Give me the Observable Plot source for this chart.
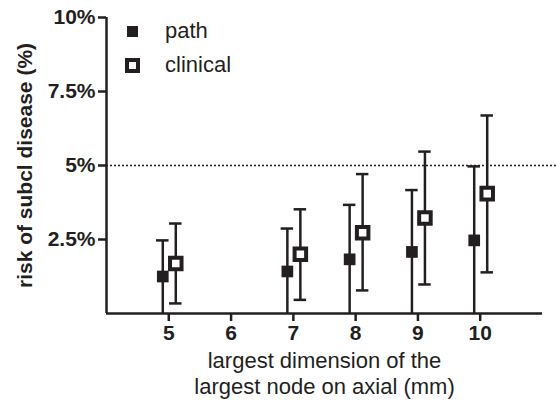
<!DOCTYPE html>
<html>
<head>
<meta charset="utf-8">
<script src="https://cdn.jsdelivr.net/npm/d3@7"></script>
<script src="https://cdn.jsdelivr.net/npm/@observablehq/plot@0.6"></script>
<style>
  html, body { margin: 0; padding: 0; background: #fff; }
  #wrap { position: relative; width: 556px; height: 405px; font-family: "Liberation Sans", Arial, sans-serif; color: #231f20; }
  #legend { position: absolute; left: 124px; top: 14px; font-size: 22px; }
  .item { display: flex; align-items: center; height: 34px; }
  .sw { width: 17px; height: 17px; display: flex; align-items: center; justify-content: center; margin-right: 24px; }
  .filled { width: 11px; height: 11px; background: #231f20; }
  .hollow { width: 7px; height: 7px; background: #fff; border: 4px solid #231f20; }
</style>
</head>
<body>
<div id="wrap">
  <div id="chart"></div>
  <div id="legend"></div>
</div>
<script>
// Data (risk in %)
const nodeSize   = [5, 7, 8, 9, 10];
const pathMean   = [1.25, 1.42, 1.83, 2.08, 2.47];
const pathLow    = [0, 0, 0, 0, 0];
const pathHigh   = [2.47, 2.87, 3.67, 4.17, 4.97];
const clinMean   = [1.69, 2.00, 2.73, 3.23, 4.05];
const clinLow    = [0.34, 0.46, 0.78, 0.98, 1.39];
const clinHigh   = [3.04, 3.52, 4.71, 5.47, 6.69];
const seriesNames = ["path", "clinical"];
const xTicks = [5, 6, 7, 8, 9, 10];
const yTicks = [2.5, 5, 7.5, 10];
const threshold = 5;
const xTitle = "largest dimension of the\nlargest node on axial (mm)";
const yTitle = "risk of subcl disease (%)";

const pathData = nodeSize.map((x, i) => ({x, mean: pathMean[i], lo: pathLow[i], hi: pathHigh[i]}));
const clinData = nodeSize.map((x, i) => ({x, mean: clinMean[i], lo: clinLow[i], hi: clinHigh[i]}));

const ink = "#231f20";
const capHalf = 0.1;
const pdx = -6, cdx = 7;

const chart = Plot.plot({
  width: 556,
  height: 405,
  marginLeft: 106,
  marginRight: 14,
  marginTop: 17,
  marginBottom: 92,
  style: {fontFamily: "'Liberation Sans', Arial, sans-serif", color: ink, background: "#fff"},
  x: {domain: [4, 11]},
  y: {domain: [0, 10]},
  marks: [
    Plot.ruleY([threshold], {x1: 4, x2: 11.23, stroke: ink, strokeWidth: 1.3, strokeDasharray: "2,2"}),
    // path error bars
    Plot.ruleX(pathData, {x: "x", y1: "lo", y2: "hi", dx: pdx, stroke: ink, strokeWidth: 2.5}),
    Plot.ruleY(pathData, {y: "hi", x1: d => d.x - capHalf, x2: d => d.x + capHalf, dx: pdx, stroke: ink, strokeWidth: 2.5}),
    // clinical error bars
    Plot.ruleX(clinData, {x: "x", y1: "lo", y2: "hi", dx: cdx, stroke: ink, strokeWidth: 2.5}),
    Plot.ruleY(clinData, {y: "hi", x1: d => d.x - capHalf, x2: d => d.x + capHalf, dx: cdx, stroke: ink, strokeWidth: 2.5}),
    Plot.ruleY(clinData, {y: "lo", x1: d => d.x - capHalf, x2: d => d.x + capHalf, dx: cdx, stroke: ink, strokeWidth: 2.5}),
    // axes lines
    Plot.ruleX([4], {y1: 0, y2: 10, stroke: ink, strokeWidth: 2.5}),
    Plot.ruleY([0], {x1: 4, x2: 11, stroke: ink, strokeWidth: 2.5}),
    // markers
    Plot.dot(pathData, {x: "x", y: "mean", dx: pdx, symbol: "square", r: 6.6, fill: ink, stroke: "none"}),
    Plot.dot(clinData, {x: "x", y: "mean", dx: cdx, symbol: "square", r: 6.5, fill: "#fff", stroke: ink, strokeWidth: 4}),
    // axes
    Plot.axisY(yTicks, {tickSize: 8, tickPadding: 3, tickFormat: d => d + "%", fontSize: 21, fontWeight: "bold", strokeWidth: 2.5, stroke: ink, fill: ink, label: null}),
    Plot.axisX(xTicks, {tickSize: 8, tickPadding: 4, fontSize: 21, fontWeight: "bold", strokeWidth: 2.5, stroke: ink, fill: ink, label: null}),
    // titles
    Plot.text([yTitle], {frameAnchor: "left", textAnchor: "middle", rotate: -90, dx: -81, fontSize: 21, fontWeight: "bold", fill: ink}),
    Plot.text([xTitle], {frameAnchor: "bottom", lineAnchor: "top", dy: 36, fontSize: 22, lineHeight: 1.18, fill: ink})
  ]
});
document.getElementById("chart").appendChild(chart);

const legend = document.getElementById("legend");
seriesNames.forEach((name, i) => {
  const item = document.createElement("div");
  item.className = "item";
  item.innerHTML = `<span class="sw"><span class="${i === 0 ? "filled" : "hollow"}"></span></span><span>${name}</span>`;
  legend.appendChild(item);
});
</script>
</body>
</html>
